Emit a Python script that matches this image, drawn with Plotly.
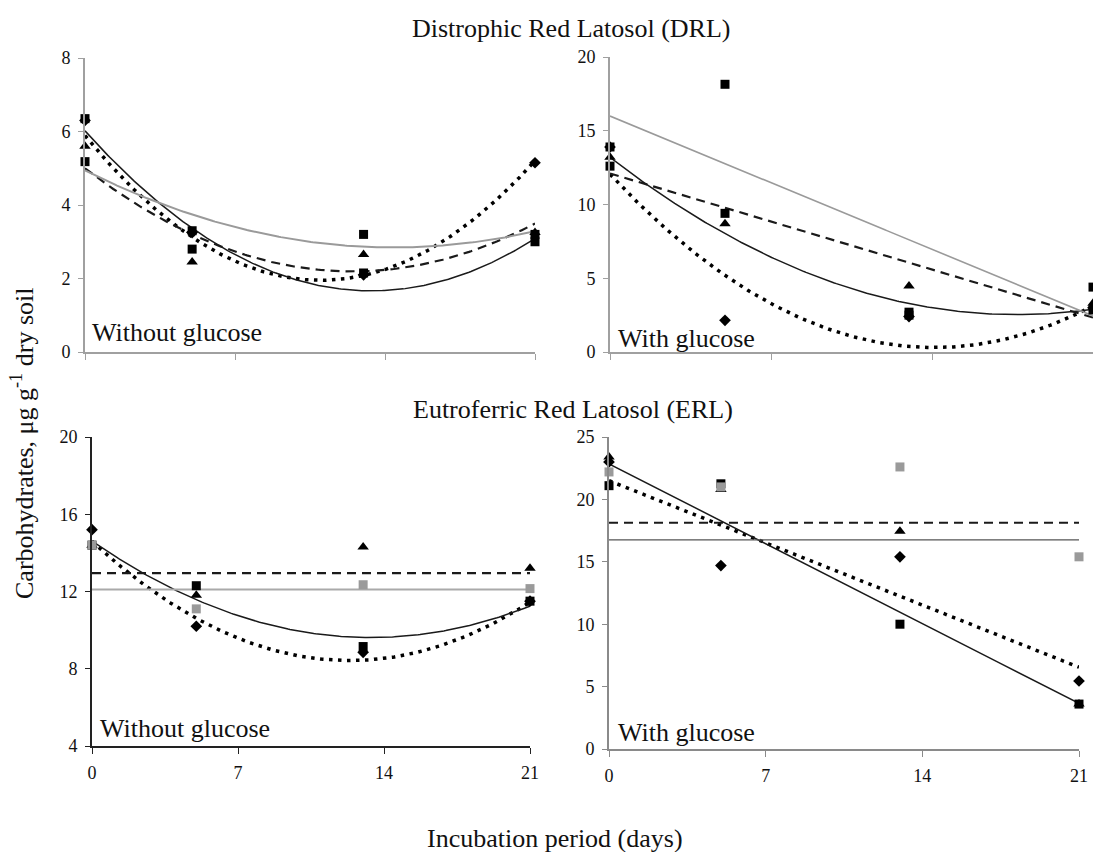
import numpy as np
import plotly.graph_objects as go

W, H = 1093, 852

# ---------------- data ----------------
days = [0, 5, 13, 21]
day_ticks = [0, 7, 14, 21]

# DRL - without glucose
drl_wo_diamond = [6.3, 3.25, 2.1, 5.15]
drl_wo_square = [6.35, 2.8, 3.2, 3.0]
drl_wo_triangle = [5.6, 2.45, 2.65, 3.25]
drl_wo_square2 = [5.18, 3.3, 2.15, 3.2]
drl_wo_trend_dotted = [5.9, 3.1, 2.1, 5.2]
drl_wo_trend_solid = [6.05, 3.3, 1.72, 3.07]
drl_wo_trend_dashed = [4.95, 3.3, 2.12, 3.52]
drl_wo_trend_gray = [4.95, 3.72, 2.88, 3.28]

# DRL - with glucose
drl_w_diamond = [13.9, 2.15, 2.4, 3.0]
drl_w_square = [13.9, 18.15, 2.7, 4.4]
drl_w_triangle = [13.2, 8.7, 4.47, 3.3]
drl_w_square2 = [12.6, 9.4, 2.5, 2.85]
drl_w_trend_dotted = [12.1, 5.1, 0.45, 3.1]
drl_w_trend_solid = [13.2, 8.0, 3.3, 2.9]
drl_w_trend_dashed = [12.1, 9.78, 6.06, 2.33]
drl_w_trend_gray = [16.0, 12.77, 7.6, 2.45]

# ERL - without glucose
erl_wo_diamond = [15.2, 10.2, 8.85, 11.5]
erl_wo_square = [14.4, 12.3, 9.15, 11.5]
erl_wo_triangle = [14.4, 11.8, 14.3, 13.2]
erl_wo_square2 = [14.4, 11.1, 12.35, 12.15]
erl_wo_trend_dotted = [14.6, 10.6, 8.45, 11.45]
erl_wo_trend_solid = [14.6, 11.6, 9.6, 11.25]
erl_wo_trend_dashed = [12.95, 12.95, 12.95, 12.95]
erl_wo_trend_gray = [12.1, 12.1, 12.1, 12.1]

# ERL - with glucose
erl_w_diamond = [23.0, 14.7, 15.4, 5.45]
erl_w_square = [21.1, 21.25, 10.0, 3.6]
erl_w_triangle = [23.4, 20.8, 17.45, 3.6]
erl_w_square2 = [22.2, 21.0, 22.6, 15.4]
erl_w_trend_dotted = [21.5, 17.94, 12.25, 6.55]
erl_w_trend_solid = [22.85, 18.28, 10.97, 3.65]
erl_w_trend_dashed = [18.13, 18.13, 18.13, 18.13]
erl_w_trend_gray = [16.75, 16.75, 16.75, 16.75]

# ---------------- styles ----------------
FONT = "Liberation Serif"
symbols = ["diamond", "square", "triangle-up", "square"]
sizes = [9, 9, 10, 9]

def xd(a, b):
    return [a / W, b / W]

def yd(top, bottom):
    return [1 - bottom / H, 1 - top / H]

panels = [
    dict(sfx="", series=[drl_wo_diamond, drl_wo_square, drl_wo_triangle, drl_wo_square2],
         colors=["black", "black", "black", "black"],
         trends=[(drl_wo_trend_dotted, 2), (drl_wo_trend_solid, 2),
                 (drl_wo_trend_dashed, 2), (drl_wo_trend_gray, 2)],
         gray=("#9a9a9a", 2.0)),
    dict(sfx="2", series=[drl_w_diamond, drl_w_square, drl_w_triangle, drl_w_square2],
         colors=["black", "black", "black", "black"],
         trends=[(drl_w_trend_dotted, 2), (drl_w_trend_solid, 2),
                 (drl_w_trend_dashed, 1), (drl_w_trend_gray, 1)],
         gray=("#9a9a9a", 1.6)),
    dict(sfx="3", series=[erl_wo_diamond, erl_wo_square, erl_wo_triangle, erl_wo_square2],
         colors=["black", "black", "black", "#9a9a9a"],
         trends=[(erl_wo_trend_dotted, 2), (erl_wo_trend_solid, 2),
                 (erl_wo_trend_dashed, 0), (erl_wo_trend_gray, 0)],
         gray=("#aaaaaa", 2.0)),
    dict(sfx="4", series=[erl_w_diamond, erl_w_square, erl_w_triangle, erl_w_square2],
         colors=["black", "black", "black", "#9a9a9a"],
         trends=[(erl_w_trend_dotted, 1), (erl_w_trend_solid, 1),
                 (erl_w_trend_dashed, 0), (erl_w_trend_gray, 0)],
         gray=("#555555", 1.2)),
]

fig = go.Figure()
xx = np.linspace(0, 21, 240)

for p in panels:
    xa = "x" + p["sfx"]
    ya = "y" + p["sfx"]
    line_styles = [
        dict(color="black", width=3.5, dash="3.5px,5.5px"),
        dict(color="#1a1a1a", width=1.5),
        dict(color="#1a1a1a", width=2.2, dash="9px,6px"),
        dict(color=p["gray"][0], width=p["gray"][1]),
    ]
    for (vals, deg), ls in zip(p["trends"], line_styles):
        coef = np.polyfit(days, vals, deg)
        fig.add_trace(go.Scatter(x=xx, y=np.polyval(coef, xx), mode="lines",
                                 line=ls, xaxis=xa, yaxis=ya, hoverinfo="skip",
                                 cliponaxis=False))
    for vals, sym, sz, col in zip(p["series"], symbols, sizes, p["colors"]):
        fig.add_trace(go.Scatter(x=days, y=vals, mode="markers",
                                 marker=dict(symbol=sym, size=sz, color=col,
                                             line=dict(width=0)),
                                 xaxis=xa, yaxis=ya, cliponaxis=False))

tickfont = dict(family=FONT, size=18, color="#111111")

def xaxis(dom, anchor, color, labels):
    return dict(domain=dom, range=[0, 21], anchor=anchor, tickvals=day_ticks,
                showticklabels=labels, ticks="outside", ticklen=6, tickwidth=1,
                tickcolor=color, showline=True, linecolor=color, linewidth=2,
                showgrid=False, zeroline=False, tickfont=tickfont,
                ticklabelstandoff=3, fixedrange=True, automargin=False)

def yaxis(dom, anchor, color, rng, dt):
    return dict(domain=dom, range=rng, anchor=anchor, dtick=dt, tick0=rng[0],
                ticks="outside", ticklen=5, tickwidth=1, tickcolor=color,
                showline=True, linecolor=color, linewidth=2, showgrid=False,
                zeroline=False, tickfont=tickfont, ticklabelstandoff=4,
                fixedrange=True, automargin=False)

fig.update_layout(
    width=W, height=H, margin=dict(l=0, r=0, t=0, b=0, pad=0, autoexpand=False),
    paper_bgcolor="white", plot_bgcolor="rgba(0,0,0,0)", showlegend=False,
    xaxis=xaxis(xd(85, 535), "y", "#a0a0a0", False),
    yaxis=yaxis(yd(58, 352), "x", "#a0a0a0", [0, 8], 2),
    xaxis2=xaxis(xd(610, 1093), "y2", "#a0a0a0", False),
    yaxis2=yaxis(yd(57, 352), "x2", "#a0a0a0", [0, 20], 5),
    xaxis3=xaxis(xd(92, 530), "y3", "#222222", True),
    yaxis3=yaxis(yd(437, 746), "x3", "#222222", [4, 20], 4),
    xaxis4=xaxis(xd(609, 1079), "y4", "#8a8a8a", True),
    yaxis4=yaxis(yd(437, 749), "x4", "#8a8a8a", [0, 25], 5),
)

def ann(text, xpx, ypx, size, xanchor="center", yanchor="middle", angle=0):
    fig.add_annotation(text=text, x=xpx / W, y=1 - ypx / H, xref="paper", yref="paper",
                       showarrow=False, xanchor=xanchor, yanchor=yanchor,
                       textangle=angle, font=dict(family=FONT, size=size, color="#111111"))

ann("Distrophic Red Latosol (DRL)", 571, 28, 26)
ann("Eutroferric Red Latosol (ERL)", 573, 410, 26)
ann("Incubation period (days)", 555, 838, 26)
ann("Carbohydrates, μg g<sup>-1</sup> dry soil", 22, 444, 26, angle=-90)
ann("Without glucose", 90, 349, 26, xanchor="left", yanchor="bottom")
ann("With glucose", 616, 355, 26, xanchor="left", yanchor="bottom")
ann("Without glucose", 98, 745, 26, xanchor="left", yanchor="bottom")
ann("With glucose", 616, 749, 26, xanchor="left", yanchor="bottom")

fig.write_html("out.html")
